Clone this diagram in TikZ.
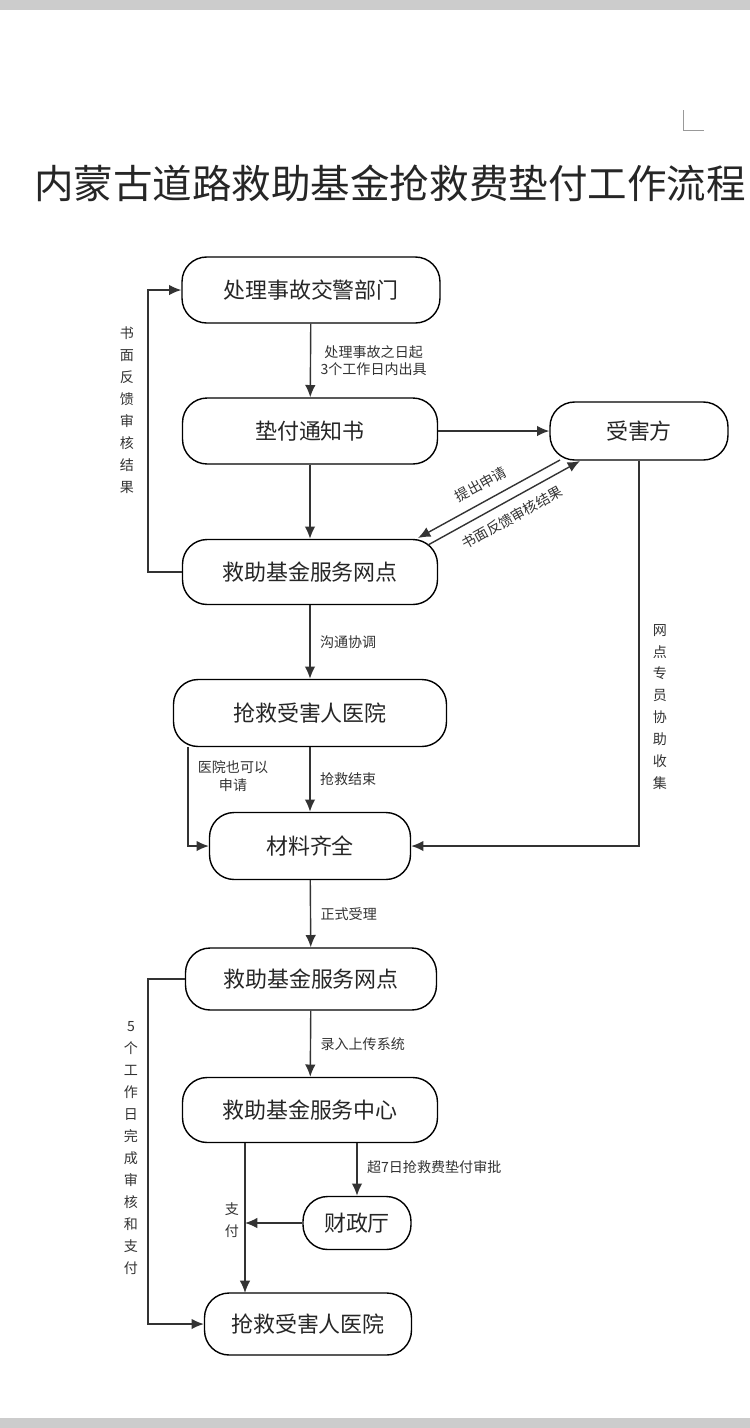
\documentclass[tikz,border=0pt]{standalone}
\usepackage{fontspec}
\newfontfamily\cjk{Noto Sans CJK SC}
\XeTeXlinebreaklocale "zh"
\XeTeXlinebreakskip=0pt plus 1pt
\usetikzlibrary{arrows.meta,positioning}
\tikzset{
  box/.style={draw, thick, rounded corners=14pt, inner sep=0pt, font=\cjk\fontsize{12.5}{14}\selectfont, text=black!85},
  lab/.style={font=\cjk\fontsize{8}{10}\selectfont, text=black!80, align=center},
  vlab/.style={lab, text width=9pt, align=center, font=\cjk\fontsize{8}{12.5}\selectfont},
  flow/.style={draw=black!80, thick, -{Latex[length=7pt,width=6pt]}}
}
\begin{document}
\begin{tikzpicture}[x=0.02cm, y=-0.02cm]
  \useasboundingbox (0,0) rectangle (750,1428);
  \fill[black!20] (0,0) rectangle (750,10);
  \fill[black!20] (0,1418) rectangle (750,1428);
  % crop mark
  \draw[black!40] (683,110) -- (683,130) -- (704,130);
  % title
  \node[anchor=west, font=\cjk\fontsize{22.5}{26}\selectfont, text=black!85] (title) at (28,183) {内蒙古道路救助基金抢救费垫付工作流程};
  % boxes
  \node[box, minimum width=5.16cm, minimum height=1.32cm] (jj) at (311,290) {处理事故交警部门};
  \node[box, minimum width=5.1cm, minimum height=1.32cm] (tz) at (310,431) {垫付通知书};
  \node[box, minimum width=3.56cm, minimum height=1.16cm] (shf) at (639,431) {受害方};
  \node[box, minimum width=5.1cm, minimum height=1.3cm] (wd) at (310,572) {救助基金服务网点};
  \node[box, minimum width=5.46cm, minimum height=1.34cm] (yy) at (310,713) {抢救受害人医院};
  \node[box, minimum width=4.02cm, minimum height=1.34cm] (cl) at (310,846) {材料齐全};
  \node[box, minimum width=5.02cm, minimum height=1.24cm] (wd2) at (311,979) {救助基金服务网点};
  \node[box, minimum width=5.1cm, minimum height=1.3cm] (zx) at (310,1110) {救助基金服务中心};
  \node[box, minimum width=2.16cm, minimum height=1.06cm] (czt) at (357,1223) {财政厅};
  \node[box, minimum width=4.14cm, minimum height=1.24cm] (yy2) at (308,1324) {抢救受害人医院};
  % helper points
  \coordinate (k1) at (148,572);
  \coordinate (k2) at (148,290);
  \coordinate (k3) at (188,747);
  \coordinate (k4) at (188,846);
  \coordinate (k5) at (639,846);
  \coordinate (k6) at (148,979);
  \coordinate (k7) at (148,1324);
  \coordinate (k8) at (245,1143);
  \coordinate (k9) at (245,1293);
  \coordinate (k10) at (245,1223);
  \coordinate (k11) at (357,1143);
  \coordinate (d1) at (560,460);
  \coordinate (d2) at (418,538);
  \coordinate (d3) at (428,545);
  \coordinate (d4) at (580,461);
  % connectors
  \draw[flow] (jj) -- node[lab, right=2pt] {处理事故之日起\\3个工作日内出具} (tz);
  \draw[flow] (tz) -- (shf);
  \draw[flow] (tz) -- (wd);
  \draw[flow] (wd.west) -- (k1) -- (k2) -- (jj.west);
  \node[vlab] (l1) at (127,410) {书面反馈审核结果};
  \draw[flow] (d1) -- node[lab, sloped, above=2pt] {提出申请} (d2);
  \draw[flow] (d3) -- node[lab, sloped, below=2pt] {书面反馈审核结果} (d4);
  \draw[flow] (wd) -- node[lab, right=2pt] {沟通协调} (yy);
  \draw[flow] (yy) -- node[lab, right=2pt] {抢救结束} (cl);
  \draw[flow] (k3) -- (k4) -- (cl.west);
  \node[lab] (l2) at (233,776) {医院也可以\\申请};
  \draw[flow] (shf) -- (k5) -- (cl.east);
  \node[vlab] (l3) at (660,707) {网点专员协助收集};
  \draw[flow] (cl) -- node[lab, right=2pt] {正式受理} (wd2);
  \draw[flow] (wd2) -- node[lab, right=2pt] {录入上传系统} (zx);
  \draw[flow] (wd2.west) -- (k6) -- (k7) -- (yy2.west);
  \node[vlab] (l4) at (131,1148) {5个工作日完成审核和支付};
  \draw[flow] (k8) -- (k9);
  \draw[flow] (k11) -- node[lab, right=2pt, pos=0.45] {超7日抢救费垫付审批} (czt);
  \draw[flow] (czt) -- (k10);
  \node[vlab] (l5) at (232,1220) {支付};
\end{tikzpicture}
\end{document}
